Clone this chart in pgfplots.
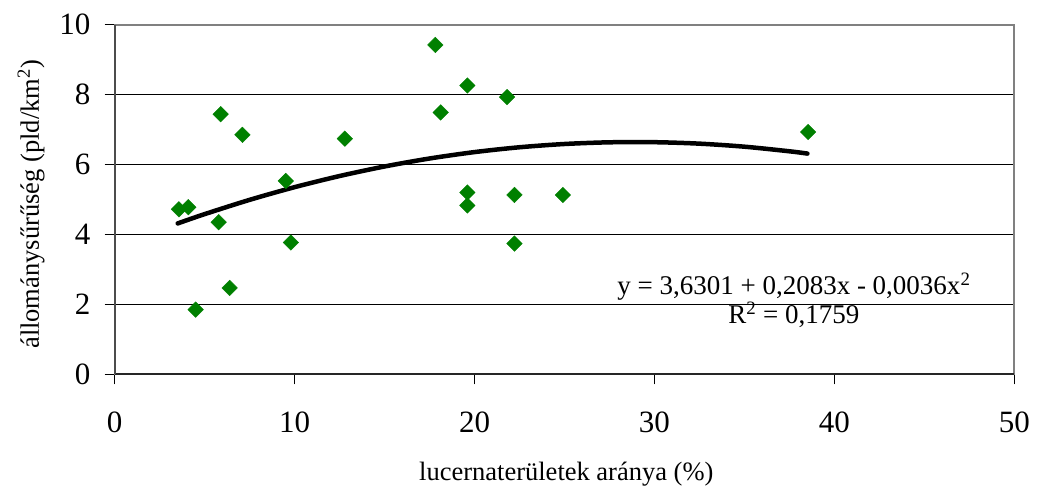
\documentclass[border=0pt]{standalone}
\usepackage{fontspec}
\setmainfont{Liberation Serif}
\usepackage{pgfplots}
\pgfplotsset{compat=1.18}
\definecolor{markgreen}{HTML}{008000}
\begin{document}
\begin{tikzpicture}
\begin{axis}[
  width=899.6bp, height=349.6bp, scale only axis,
  xmin=0, xmax=50, ymin=0, ymax=10,
  xtick={0,10,20,30,40,50},
  ytick={0,2,4,6,8,10},
  xtick pos=left, ytick pos=left,
  tick align=outside,
  major tick length=10bp,
  tick style={black, line width=1.2bp},
  axis line style={draw=gray, line width=2bp},
  ymajorgrids,
  grid style={black, line width=1bp},
  /pgf/number format/assume math mode=true,
  ticklabel style={font=\fontsize{31bp}{36bp}\selectfont, inner sep=0pt},
  xticklabel style={anchor=north, yshift=-27bp},
  yticklabel style={anchor=east, xshift=-14bp},
  xlabel={lucernaterületek aránya (\%)},
  ylabel={állománysűrűség (pld/km\textsuperscript{2})},
  label style={font=\fontsize{26.5bp}{31bp}\selectfont, inner sep=0pt},
  xlabel style={at={(axis description cs:0.502,-0.285)}, anchor=center},
  ylabel style={at={(axis description cs:-0.093,0.486)}, anchor=center, rotate=0},
  clip=false,
]
\draw[draw=black!85, line width=2bp] (rel axis cs:0,0) -- (rel axis cs:1,0);
\draw[draw=black!70, line width=2bp] (rel axis cs:0,0) -- (rel axis cs:0,1);
\addplot[only marks, mark=square*, mark size=5.5bp, mark options={rotate=45, fill=markgreen, draw=markgreen}]
coordinates {
(3.57,4.72) (4.09,4.78) (5.78,4.35) (9.51,5.53) (9.79,3.77)
(6.39,2.47) (4.50,1.85) (5.89,7.44) (7.10,6.85) (12.79,6.74)
(17.82,9.42) (19.60,8.26) (21.81,7.93) (18.12,7.49) (19.60,5.20)
(19.60,4.83) (22.22,5.13) (24.91,5.13) (22.22,3.74) (38.54,6.93)
};
\addplot[black, line width=4.5bp, smooth, line cap=round] coordinates {
(3.5,4.3151) (5,4.5816) (7.5,4.9899) (10,5.3531) (12.5,5.6714)
(15,5.9446) (17.5,6.1729) (20,6.3561) (22.5,6.4944) (25,6.5876)
(27.5,6.6359) (30,6.6391) (32.5,6.5974) (35,6.5106) (37.5,6.3789)
(38.5,6.3136)
};
\node[font=\fontsize{27bp}{32bp}\selectfont, anchor=base, inner sep=0pt] at (axis cs:37.75,2.286) {y = 3,6301 + 0,2083x - 0,0036x\textsuperscript{2}};
\node[font=\fontsize{27bp}{32bp}\selectfont, anchor=base, inner sep=0pt] at (axis cs:37.75,1.457) {R\textsuperscript{2} = 0,1759};
\end{axis}
\path ([shift={(-114.7bp,-118.7bp)}]current axis.south west) rectangle ([shift={(26.7bp,24.7bp)}]current axis.north east);
\end{tikzpicture}
\end{document}
